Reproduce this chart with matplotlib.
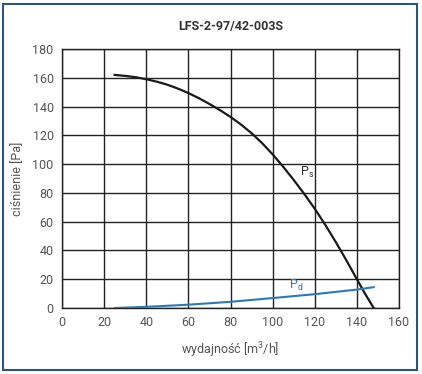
import matplotlib
matplotlib.use('Agg')
from matplotlib import pyplot as plt
from matplotlib.patches import Rectangle

# static pressure curve
ps_flow = [25, 30, 35, 40, 45, 50, 55, 60, 65, 70, 75, 80, 85, 90, 95, 100,
           105, 110, 115, 120, 125, 130, 135, 140, 144, 148]
ps_pres = [162, 161.3, 160.4, 159, 157.3, 155.2, 152.5, 149.4, 145.8, 141.8,
           137.5, 132.8, 127.5, 121.5, 114.6, 106.8, 98.2, 89, 79.3, 69,
           57.8, 45.8, 33.2, 20, 9.6, 0]

# dynamic pressure curve
pd_flow = [25, 40, 60, 80, 100, 120, 140, 148]
pd_pres = [0, 0.8, 2.3, 4.3, 6.9, 9.6, 12.8, 14.5]

xticks = [0, 20, 40, 60, 80, 100, 120, 140, 160]
yticks = [0, 20, 40, 60, 80, 100, 120, 140, 160, 180]

plt.rcParams['font.family'] = ['Roboto', 'DejaVu Sans']

fig = plt.figure(figsize=(4.22, 3.74), dpi=100)
fig.patches.append(Rectangle((3 / 422, 4 / 374), 414 / 422, 366 / 374,
                             transform=fig.transFigure, fill=False,
                             edgecolor='#2c5577', linewidth=1.5))
ax = fig.add_axes([62 / 422, 66 / 374, 337 / 422, 259 / 374])

ax.plot(ps_flow, ps_pres, color='#1a1a1a', lw=1.6, zorder=3)
ax.plot(pd_flow, pd_pres, color='#2a7ab8', lw=1.5, zorder=3)

ax.text(113, 92, 'P$_\\mathregular{s}$', color='#333333', fontsize=9)
ax.text(108, 13, 'P$_\\mathregular{d}$', color='#2a7ab8', fontsize=9)

ax.set_xlim(0, 160)
ax.set_ylim(0, 180)
ax.set_xticks(xticks)
ax.set_yticks(yticks)
ax.grid(True, color='#222222', lw=1)
ax.set_axisbelow(True)
for s in ax.spines.values():
    s.set_color('#222222')
    s.set_linewidth(1)
ax.tick_params(length=0, labelsize=9, labelcolor='#555555', pad=6)

ax.set_xlabel('wydajność [m$^\\mathregular{3}$/h]', fontsize=9, color='#555555', labelpad=8)
ax.set_ylabel('ciśnienie [Pa]', fontsize=9, color='#555555', labelpad=6)
ax.set_title('LFS-2-97/42-003S', fontsize=9, fontweight='bold', color='#333333', pad=14)

fig.savefig('out.png', dpi=100)
